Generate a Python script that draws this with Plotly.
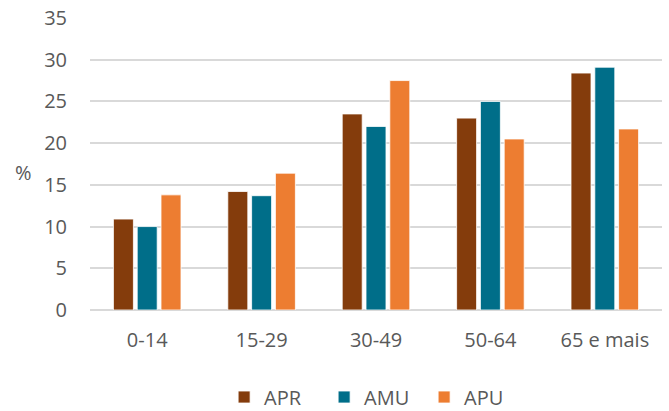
import plotly.graph_objects as go

categories = ["0-14", "15-29", "30-49", "50-64", "65 e mais"]
apr = [10.9, 14.2, 23.5, 23.0, 28.4]
amu = [10.0, 13.7, 22.0, 25.0, 29.1]
apu = [13.8, 16.4, 27.5, 20.5, 21.7]
y_ticks = [0, 5, 10, 15, 20, 25, 30, 35]

series = [("APR", apr, "#843C0C"), ("AMU", amu, "#006E89"), ("APU", apu, "#ED7D31")]

fig = go.Figure()
for name, vals, col in series:
    fig.add_trace(go.Bar(x=categories, y=vals, name=name,
                         marker=dict(color=col, line=dict(color="white", width=0.8))))

font = "Open Sans, Liberation Sans, sans-serif"
grey = "#595959"
fs = 20
fig.update_layout(
    width=669, height=411,
    margin=dict(l=90, r=7, t=18, b=101, autoexpand=False),
    plot_bgcolor="white", paper_bgcolor="white",
    barmode="group", bargap=0.376, bargroupgap=0.16,
    font=dict(family=font, size=fs, color=grey),
    showlegend=True,
    legend=dict(orientation="h", xref="container", yref="container",
                x=0.335, xanchor="left", y=0.034, yanchor="middle",
                font=dict(size=fs, color=grey), itemwidth=30,
                entrywidth=55, entrywidthmode="pixels",
                traceorder="normal"),
    xaxis=dict(showgrid=False, showline=False, ticks="", ticklabelstandoff=16,
               tickfont=dict(size=fs, color=grey)),
    yaxis=dict(range=[0, 35], tickvals=y_ticks, showgrid=True,
               gridcolor="#D9D9D9", gridwidth=1.5, zeroline=True,
               zerolinecolor="#D9D9D9", zerolinewidth=1.5, showline=False,
               ticks="", ticklabelstandoff=22,
               tickfont=dict(size=fs, color=grey)),
    annotations=[dict(text="%", xref="paper", yref="paper", x=-0.117, y=0.47,
                      xanchor="center", yanchor="middle", showarrow=False,
                      font=dict(size=fs, color=grey))],
)

fig.write_html("out.html", config={"displayModeBar": False},
               post_script="document.body.style.margin='0px';document.body.style.overflow='hidden';")
